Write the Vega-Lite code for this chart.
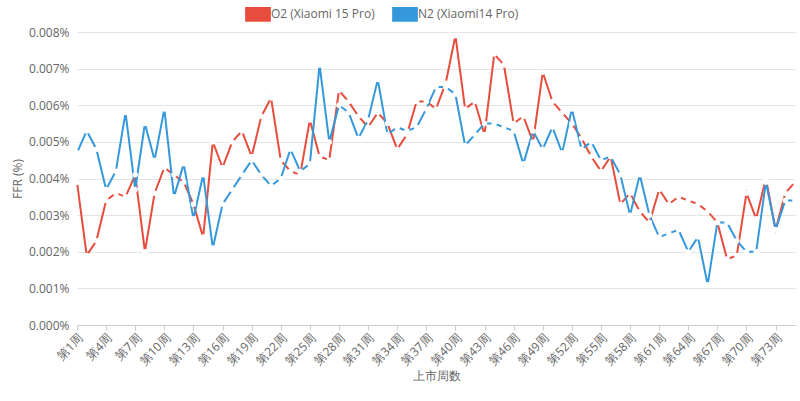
{
  "$schema": "https://vega.github.io/schema/vega-lite/v6.json",
  "autosize": {"type": "none"},
  "padding": {"left": 77, "top": 32, "right": 5, "bottom": 76},
  "width": 718,
  "height": 293,
  "data": {
    "values": [
      {"week":1,"series":"O2 (Xiaomi 15 Pro)","ffr":0.0039},{"week":2,"series":"O2 (Xiaomi 15 Pro)","ffr":0.0019},{"week":3,"series":"O2 (Xiaomi 15 Pro)","ffr":0.0023},{"week":4,"series":"O2 (Xiaomi 15 Pro)","ffr":0.0034},{"week":5,"series":"O2 (Xiaomi 15 Pro)","ffr":0.0036},
      {"week":6,"series":"O2 (Xiaomi 15 Pro)","ffr":0.0035},{"week":7,"series":"O2 (Xiaomi 15 Pro)","ffr":0.0041},{"week":8,"series":"O2 (Xiaomi 15 Pro)","ffr":0.0020},{"week":9,"series":"O2 (Xiaomi 15 Pro)","ffr":0.0036},{"week":10,"series":"O2 (Xiaomi 15 Pro)","ffr":0.0043},
      {"week":11,"series":"O2 (Xiaomi 15 Pro)","ffr":0.0041},{"week":12,"series":"O2 (Xiaomi 15 Pro)","ffr":0.0039},{"week":13,"series":"O2 (Xiaomi 15 Pro)","ffr":0.0033},{"week":14,"series":"O2 (Xiaomi 15 Pro)","ffr":0.0024},{"week":15,"series":"O2 (Xiaomi 15 Pro)","ffr":0.0050},
      {"week":16,"series":"O2 (Xiaomi 15 Pro)","ffr":0.0043},{"week":17,"series":"O2 (Xiaomi 15 Pro)","ffr":0.0050},{"week":18,"series":"O2 (Xiaomi 15 Pro)","ffr":0.0053},{"week":19,"series":"O2 (Xiaomi 15 Pro)","ffr":0.0046},{"week":20,"series":"O2 (Xiaomi 15 Pro)","ffr":0.0057},
      {"week":21,"series":"O2 (Xiaomi 15 Pro)","ffr":0.0062},{"week":22,"series":"O2 (Xiaomi 15 Pro)","ffr":0.0045},{"week":23,"series":"O2 (Xiaomi 15 Pro)","ffr":0.0042},{"week":24,"series":"O2 (Xiaomi 15 Pro)","ffr":0.0041},{"week":25,"series":"O2 (Xiaomi 15 Pro)","ffr":0.0056},
      {"week":26,"series":"O2 (Xiaomi 15 Pro)","ffr":0.0046},{"week":27,"series":"O2 (Xiaomi 15 Pro)","ffr":0.0045},{"week":28,"series":"O2 (Xiaomi 15 Pro)","ffr":0.0064},{"week":29,"series":"O2 (Xiaomi 15 Pro)","ffr":0.0061},{"week":30,"series":"O2 (Xiaomi 15 Pro)","ffr":0.0057},
      {"week":31,"series":"O2 (Xiaomi 15 Pro)","ffr":0.0054},{"week":32,"series":"O2 (Xiaomi 15 Pro)","ffr":0.0058},{"week":33,"series":"O2 (Xiaomi 15 Pro)","ffr":0.0055},{"week":34,"series":"O2 (Xiaomi 15 Pro)","ffr":0.0048},{"week":35,"series":"O2 (Xiaomi 15 Pro)","ffr":0.0052},
      {"week":36,"series":"O2 (Xiaomi 15 Pro)","ffr":0.0061},{"week":37,"series":"O2 (Xiaomi 15 Pro)","ffr":0.0061},{"week":38,"series":"O2 (Xiaomi 15 Pro)","ffr":0.0059},{"week":39,"series":"O2 (Xiaomi 15 Pro)","ffr":0.0066},{"week":40,"series":"O2 (Xiaomi 15 Pro)","ffr":0.0079},
      {"week":41,"series":"O2 (Xiaomi 15 Pro)","ffr":0.0059},{"week":42,"series":"O2 (Xiaomi 15 Pro)","ffr":0.0061},{"week":43,"series":"O2 (Xiaomi 15 Pro)","ffr":0.0052},{"week":44,"series":"O2 (Xiaomi 15 Pro)","ffr":0.0074},{"week":45,"series":"O2 (Xiaomi 15 Pro)","ffr":0.0071},
      {"week":46,"series":"O2 (Xiaomi 15 Pro)","ffr":0.0055},{"week":47,"series":"O2 (Xiaomi 15 Pro)","ffr":0.0057},{"week":48,"series":"O2 (Xiaomi 15 Pro)","ffr":0.0050},{"week":49,"series":"O2 (Xiaomi 15 Pro)","ffr":0.0069},{"week":50,"series":"O2 (Xiaomi 15 Pro)","ffr":0.0061},
      {"week":51,"series":"O2 (Xiaomi 15 Pro)","ffr":0.0058},{"week":52,"series":"O2 (Xiaomi 15 Pro)","ffr":0.0055},{"week":53,"series":"O2 (Xiaomi 15 Pro)","ffr":0.0051},{"week":54,"series":"O2 (Xiaomi 15 Pro)","ffr":0.0046},{"week":55,"series":"O2 (Xiaomi 15 Pro)","ffr":0.0042},
      {"week":56,"series":"O2 (Xiaomi 15 Pro)","ffr":0.0046},{"week":57,"series":"O2 (Xiaomi 15 Pro)","ffr":0.0033},{"week":58,"series":"O2 (Xiaomi 15 Pro)","ffr":0.0036},{"week":59,"series":"O2 (Xiaomi 15 Pro)","ffr":0.0031},{"week":60,"series":"O2 (Xiaomi 15 Pro)","ffr":0.0028},
      {"week":61,"series":"O2 (Xiaomi 15 Pro)","ffr":0.0037},{"week":62,"series":"O2 (Xiaomi 15 Pro)","ffr":0.0033},{"week":63,"series":"O2 (Xiaomi 15 Pro)","ffr":0.0035},{"week":64,"series":"O2 (Xiaomi 15 Pro)","ffr":0.0034},{"week":65,"series":"O2 (Xiaomi 15 Pro)","ffr":0.0033},
      {"week":66,"series":"O2 (Xiaomi 15 Pro)","ffr":0.0031},{"week":67,"series":"O2 (Xiaomi 15 Pro)","ffr":0.0028},{"week":68,"series":"O2 (Xiaomi 15 Pro)","ffr":0.0018},{"week":69,"series":"O2 (Xiaomi 15 Pro)","ffr":0.0019},{"week":70,"series":"O2 (Xiaomi 15 Pro)","ffr":0.0036},
      {"week":71,"series":"O2 (Xiaomi 15 Pro)","ffr":0.0029},{"week":72,"series":"O2 (Xiaomi 15 Pro)","ffr":0.0040},{"week":73,"series":"O2 (Xiaomi 15 Pro)","ffr":0.0026},{"week":74,"series":"O2 (Xiaomi 15 Pro)","ffr":0.0036},{"week":75,"series":"O2 (Xiaomi 15 Pro)","ffr":0.0039},
      {"week":1,"series":"N2 (Xiaomi14 Pro)","ffr":0.0047},{"week":2,"series":"N2 (Xiaomi14 Pro)","ffr":0.0053},{"week":3,"series":"N2 (Xiaomi14 Pro)","ffr":0.0048},{"week":4,"series":"N2 (Xiaomi14 Pro)","ffr":0.0037},{"week":5,"series":"N2 (Xiaomi14 Pro)","ffr":0.0042},
      {"week":6,"series":"N2 (Xiaomi14 Pro)","ffr":0.0058},{"week":7,"series":"N2 (Xiaomi14 Pro)","ffr":0.0037},{"week":8,"series":"N2 (Xiaomi14 Pro)","ffr":0.0055},{"week":9,"series":"N2 (Xiaomi14 Pro)","ffr":0.0045},{"week":10,"series":"N2 (Xiaomi14 Pro)","ffr":0.0059},
      {"week":11,"series":"N2 (Xiaomi14 Pro)","ffr":0.0035},{"week":12,"series":"N2 (Xiaomi14 Pro)","ffr":0.0044},{"week":13,"series":"N2 (Xiaomi14 Pro)","ffr":0.0029},{"week":14,"series":"N2 (Xiaomi14 Pro)","ffr":0.0041},{"week":15,"series":"N2 (Xiaomi14 Pro)","ffr":0.0021},
      {"week":16,"series":"N2 (Xiaomi14 Pro)","ffr":0.0033},{"week":17,"series":"N2 (Xiaomi14 Pro)","ffr":0.0037},{"week":18,"series":"N2 (Xiaomi14 Pro)","ffr":0.0041},{"week":19,"series":"N2 (Xiaomi14 Pro)","ffr":0.0045},{"week":20,"series":"N2 (Xiaomi14 Pro)","ffr":0.0041},
      {"week":21,"series":"N2 (Xiaomi14 Pro)","ffr":0.0038},{"week":22,"series":"N2 (Xiaomi14 Pro)","ffr":0.0040},{"week":23,"series":"N2 (Xiaomi14 Pro)","ffr":0.0048},{"week":24,"series":"N2 (Xiaomi14 Pro)","ffr":0.0042},{"week":25,"series":"N2 (Xiaomi14 Pro)","ffr":0.0044},
      {"week":26,"series":"N2 (Xiaomi14 Pro)","ffr":0.0071},{"week":27,"series":"N2 (Xiaomi14 Pro)","ffr":0.0050},{"week":28,"series":"N2 (Xiaomi14 Pro)","ffr":0.0060},{"week":29,"series":"N2 (Xiaomi14 Pro)","ffr":0.0058},{"week":30,"series":"N2 (Xiaomi14 Pro)","ffr":0.0051},
      {"week":31,"series":"N2 (Xiaomi14 Pro)","ffr":0.0056},{"week":32,"series":"N2 (Xiaomi14 Pro)","ffr":0.0067},{"week":33,"series":"N2 (Xiaomi14 Pro)","ffr":0.0052},{"week":34,"series":"N2 (Xiaomi14 Pro)","ffr":0.0054},{"week":35,"series":"N2 (Xiaomi14 Pro)","ffr":0.0053},
      {"week":36,"series":"N2 (Xiaomi14 Pro)","ffr":0.0054},{"week":37,"series":"N2 (Xiaomi14 Pro)","ffr":0.0059},{"week":38,"series":"N2 (Xiaomi14 Pro)","ffr":0.0065},{"week":39,"series":"N2 (Xiaomi14 Pro)","ffr":0.0065},{"week":40,"series":"N2 (Xiaomi14 Pro)","ffr":0.0063},
      {"week":41,"series":"N2 (Xiaomi14 Pro)","ffr":0.0049},{"week":42,"series":"N2 (Xiaomi14 Pro)","ffr":0.0052},{"week":43,"series":"N2 (Xiaomi14 Pro)","ffr":0.0055},{"week":44,"series":"N2 (Xiaomi14 Pro)","ffr":0.0055},{"week":45,"series":"N2 (Xiaomi14 Pro)","ffr":0.0054},
      {"week":46,"series":"N2 (Xiaomi14 Pro)","ffr":0.0053},{"week":47,"series":"N2 (Xiaomi14 Pro)","ffr":0.0044},{"week":48,"series":"N2 (Xiaomi14 Pro)","ffr":0.0053},{"week":49,"series":"N2 (Xiaomi14 Pro)","ffr":0.0048},{"week":50,"series":"N2 (Xiaomi14 Pro)","ffr":0.0054},
      {"week":51,"series":"N2 (Xiaomi14 Pro)","ffr":0.0047},{"week":52,"series":"N2 (Xiaomi14 Pro)","ffr":0.0059},{"week":53,"series":"N2 (Xiaomi14 Pro)","ffr":0.0048},{"week":54,"series":"N2 (Xiaomi14 Pro)","ffr":0.0050},{"week":55,"series":"N2 (Xiaomi14 Pro)","ffr":0.0045},
      {"week":56,"series":"N2 (Xiaomi14 Pro)","ffr":0.0046},{"week":57,"series":"N2 (Xiaomi14 Pro)","ffr":0.0041},{"week":58,"series":"N2 (Xiaomi14 Pro)","ffr":0.0030},{"week":59,"series":"N2 (Xiaomi14 Pro)","ffr":0.0041},{"week":60,"series":"N2 (Xiaomi14 Pro)","ffr":0.0030},
      {"week":61,"series":"N2 (Xiaomi14 Pro)","ffr":0.0024},{"week":62,"series":"N2 (Xiaomi14 Pro)","ffr":0.0025},{"week":63,"series":"N2 (Xiaomi14 Pro)","ffr":0.0026},{"week":64,"series":"N2 (Xiaomi14 Pro)","ffr":0.0020},{"week":65,"series":"N2 (Xiaomi14 Pro)","ffr":0.0024},
      {"week":66,"series":"N2 (Xiaomi14 Pro)","ffr":0.0011},{"week":67,"series":"N2 (Xiaomi14 Pro)","ffr":0.0028},{"week":68,"series":"N2 (Xiaomi14 Pro)","ffr":0.0028},{"week":69,"series":"N2 (Xiaomi14 Pro)","ffr":0.0023},{"week":70,"series":"N2 (Xiaomi14 Pro)","ffr":0.0020},
      {"week":71,"series":"N2 (Xiaomi14 Pro)","ffr":0.0020},{"week":72,"series":"N2 (Xiaomi14 Pro)","ffr":0.0039},{"week":73,"series":"N2 (Xiaomi14 Pro)","ffr":0.0026},{"week":74,"series":"N2 (Xiaomi14 Pro)","ffr":0.0034},{"week":75,"series":"N2 (Xiaomi14 Pro)","ffr":0.0034}
    ]
  },
  "mark": {"type": "line", "strokeWidth": 2, "point": {"filled": true, "fill": "white", "size": 30, "strokeWidth": 2}},
  "encoding": {
    "x": {
      "field": "week", "type": "quantitative", "title": "上市周数",
      "scale": {"domain": [1, 75], "nice": false, "zero": false},
      "axis": {"values": [1,4,7,10,13,16,19,22,25,28,31,34,37,40,43,46,49,52,55,58,61,64,67,70,73], "labelOverlap": false, "labelExpr": "'第' + datum.value + '周'", "labelAngle": -45, "labelAlign": "right", "grid": false, "labelFontSize": 12, "titleFontWeight": "normal", "titleFontSize": 12, "domainColor": "#ccc", "tickColor": "#ccc", "labelColor": "#666", "titleColor": "#666"}
    },
    "y": {
      "field": "ffr", "type": "quantitative", "title": "FFR (%)",
      "scale": {"domain": [0, 0.008]},
      "axis": {"tickCount": 8, "labelExpr": "format(datum.value, '.3f') + '%'", "labelFontSize": 12, "titleFontWeight": "normal", "titleFontSize": 12, "gridColor": "#e5e5e5", "domain": false, "ticks": false, "labelColor": "#666", "titleColor": "#666", "labelPadding": 8}
    },
    "color": {
      "field": "series", "type": "nominal", "title": null,
      "sort": ["O2 (Xiaomi 15 Pro)", "N2 (Xiaomi14 Pro)"],
      "scale": {"domain": ["O2 (Xiaomi 15 Pro)", "N2 (Xiaomi14 Pro)"], "range": ["#e74c3c", "#3498db"]},
      "legend": {"orient": "none", "legendX": 172, "legendY": -27, "direction": "horizontal", "symbolType": "M-1.5,-0.8H1.5V0.8H-1.5Z", "symbolSize": 250, "symbolFillColor": "#f2f6fa", "symbolStrokeWidth": 2, "labelFontSize": 12, "labelColor": "#666", "columnPadding": 14}
    },
    "order": {"field": "week"}
  },
  "config": {"view": {"stroke": null}, "font": "Open Sans"}
}
